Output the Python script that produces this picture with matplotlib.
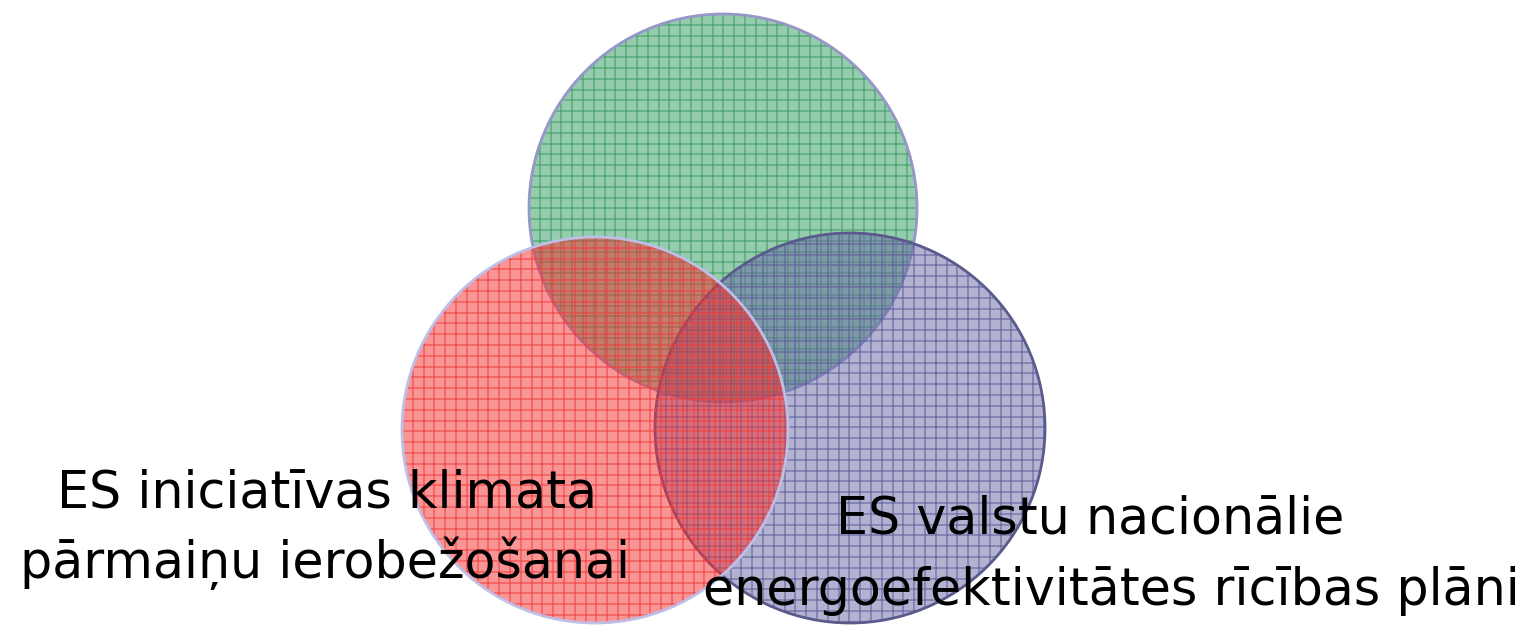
import numpy as np
import matplotlib.pyplot as plt
from matplotlib.patches import Circle

# circle data (pixel coordinates of the original slide), drawn bottom to top
names = ['green', 'blue', 'red']
cx = [723, 850, 595]
cy = [208, 428, 430]
radius = [194, 195, 193]
fill_colors = ['#2d9b5f', '#6969a5', '#f52d2d']
line_colors = ['#3c9a64', '#5a5a9a', '#f03c3c']
edge_colors = ['#9696c8', '#5a5a8c', '#bebee6']

# label lines: text, centre x, baseline y
label_lines = ['ES iniciatīvas klimata', 'pārmaiņu ierobežošanai',
               'ES valstu nacionālie', 'energoefektivitātes rīcības plāni']
label_x = [327, 325, 1090, 1111]
label_y = [507, 578, 533, 605]

fig = plt.figure(figsize=(15.3, 6.25), dpi=100)
ax = fig.add_axes([0, 0, 1, 1])
ax.set_xlim(0, 1530)
ax.set_ylim(625, 0)
ax.set_aspect('equal')
ax.axis('off')

step = 10.8
for i in range(len(names)):
    c = Circle((cx[i], cy[i]), radius[i], facecolor=fill_colors[i], alpha=0.5,
               edgecolor='none', zorder=i * 3 + 1)
    ax.add_patch(c)
    clip = Circle((cx[i], cy[i]), radius[i], transform=ax.transData)
    xs = np.arange(cx[i] - radius[i], cx[i] + radius[i], step)
    ys = np.arange(cy[i] - radius[i], cy[i] + radius[i], step)
    for x in xs:
        ln, = ax.plot([x, x], [cy[i] - radius[i], cy[i] + radius[i]],
                      color=line_colors[i], lw=1.2, alpha=0.6, zorder=i * 3 + 2)
        ln.set_clip_path(clip)
    for y in ys:
        ln, = ax.plot([cx[i] - radius[i], cx[i] + radius[i]], [y, y],
                      color=line_colors[i], lw=1.2, alpha=0.6, zorder=i * 3 + 2)
        ln.set_clip_path(clip)
    e = Circle((cx[i], cy[i]), radius[i], facecolor='none',
               edgecolor=edge_colors[i], lw=2, zorder=i * 3 + 3)
    ax.add_patch(e)

for t, x, y in zip(label_lines, label_x, label_y):
    ax.text(x, y, t, ha='center', va='baseline', fontsize=36.5,
            family='DejaVu Sans', color='black', zorder=20)

fig.savefig('out.png', dpi=100)
